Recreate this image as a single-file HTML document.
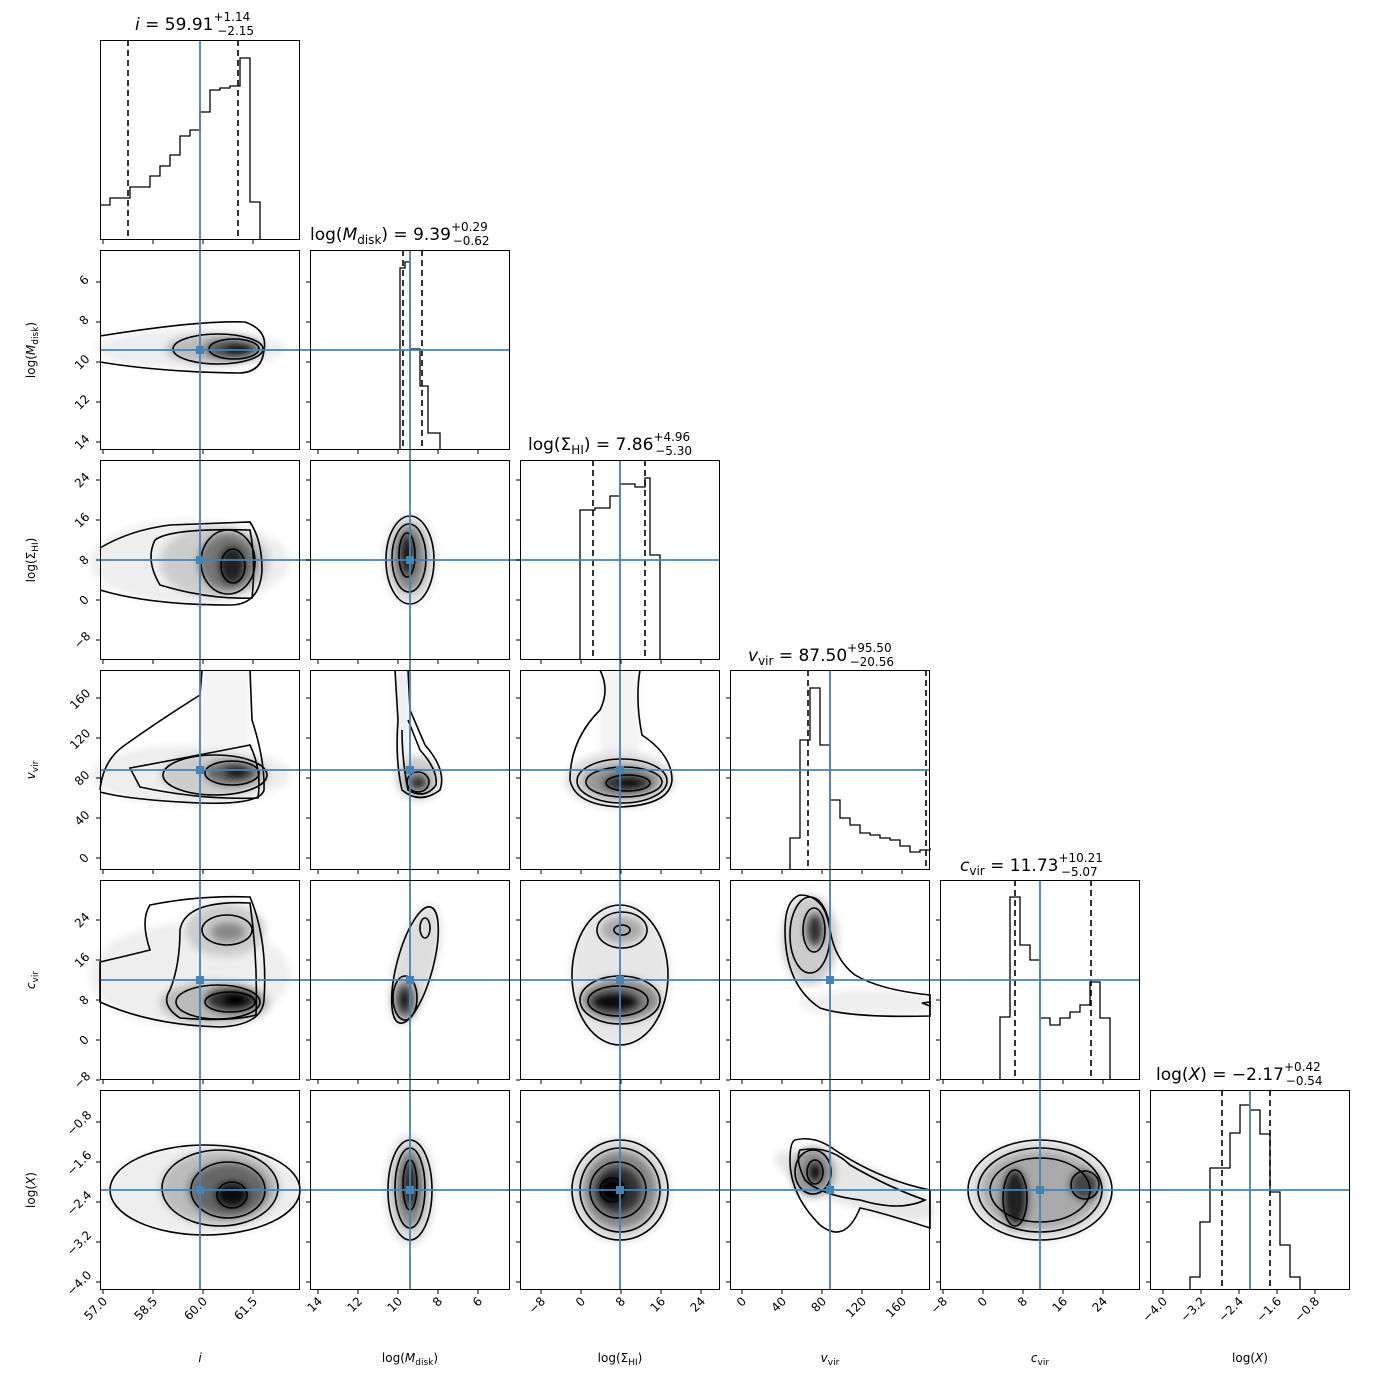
<!DOCTYPE html>
<html><head><meta charset="utf-8"><style>
html,body{margin:0;padding:0;background:#fff}
svg{display:block;font-family:"DejaVu Sans","Liberation Sans",sans-serif}
</style></head><body>
<svg width="1390" height="1390" viewBox="0 0 1390 1390" xmlns="http://www.w3.org/2000/svg">
<defs><filter id="b" x="-20%" y="-20%" width="140%" height="140%"><feGaussianBlur stdDeviation="4"/></filter></defs>
<rect width="1390" height="1390" fill="#fff"/>

<g filter="url(#b)">
<ellipse cx="190" cy="349" rx="95" ry="20" fill="#eee"/><ellipse cx="215" cy="349" rx="50" ry="15" fill="#bbb"/><ellipse cx="232" cy="349" rx="28" ry="11" fill="#555"/><ellipse cx="238" cy="350" rx="15" ry="7" fill="#111"/>
<ellipse cx="190" cy="562" rx="100" ry="42" fill="#eee"/><ellipse cx="215" cy="562" rx="55" ry="36" fill="#ccc"/><ellipse cx="228" cy="562" rx="30" ry="30" fill="#777"/><ellipse cx="232" cy="565" rx="14" ry="20" fill="#222"/>
<ellipse cx="410" cy="560" rx="26" ry="45" fill="#ddd"/><ellipse cx="409" cy="558" rx="18" ry="34" fill="#888"/><ellipse cx="407" cy="555" rx="8" ry="22" fill="#111"/>
<ellipse cx="190" cy="775" rx="100" ry="30" fill="#eee"/><rect x="200" y="670" width="50" height="100" fill="#f3f3f3"/><ellipse cx="215" cy="775" rx="55" ry="22" fill="#ccc"/><ellipse cx="232" cy="773" rx="28" ry="13" fill="#666"/><ellipse cx="237" cy="772" rx="14" ry="7" fill="#111"/>
<rect x="395" y="670" width="15" height="90" fill="#eee"/><ellipse cx="418" cy="778" rx="22" ry="22" fill="#ccc"/><ellipse cx="418" cy="782" rx="12" ry="10" fill="#555"/><ellipse cx="418" cy="785" rx="7" ry="5" fill="#111"/>
<rect x="600" y="670" width="40" height="100" fill="#f3f3f3"/><ellipse cx="620" cy="780" rx="55" ry="28" fill="#ddd"/><ellipse cx="622" cy="781" rx="40" ry="18" fill="#999"/><ellipse cx="627" cy="783" rx="25" ry="10" fill="#333"/><ellipse cx="630" cy="783" rx="12" ry="5" fill="#000"/>
<ellipse cx="190" cy="975" rx="100" ry="52" fill="#eee"/><ellipse cx="225" cy="930" rx="40" ry="27" fill="#ccc"/><ellipse cx="215" cy="1003" rx="55" ry="22" fill="#bbb"/><ellipse cx="228" cy="932" rx="18" ry="10" fill="#888"/><ellipse cx="232" cy="1000" rx="28" ry="14" fill="#333"/><ellipse cx="235" cy="1000" rx="14" ry="8" fill="#000"/>
<ellipse cx="415" cy="965" rx="20" ry="62" transform="rotate(15 415 965)" fill="#ddd"/><ellipse cx="405" cy="1000" rx="12" ry="20" fill="#666"/><ellipse cx="404" cy="1000" rx="6" ry="12" fill="#000"/>
<ellipse cx="620" cy="975" rx="50" ry="72" fill="#e6e6e6"/><ellipse cx="622" cy="930" rx="22" ry="14" fill="#aaa"/><ellipse cx="620" cy="1000" rx="40" ry="22" fill="#888"/><ellipse cx="615" cy="1002" rx="26" ry="12" fill="#111"/>
<ellipse cx="810" cy="940" rx="28" ry="45" fill="#ccc"/><ellipse cx="870" cy="1003" rx="70" ry="13" fill="#eee"/><ellipse cx="815" cy="930" rx="10" ry="18" fill="#333"/>
<ellipse cx="205" cy="1190" rx="100" ry="45" fill="#eee"/><ellipse cx="220" cy="1188" rx="60" ry="38" fill="#bbb"/><ellipse cx="228" cy="1190" rx="40" ry="28" fill="#666"/><ellipse cx="232" cy="1195" rx="18" ry="14" fill="#111"/>
<ellipse cx="410" cy="1190" rx="25" ry="55" fill="#ddd"/><ellipse cx="410" cy="1188" rx="16" ry="40" fill="#888"/><ellipse cx="410" cy="1185" rx="8" ry="25" fill="#222"/>
<ellipse cx="620" cy="1190" rx="50" ry="52" fill="#ddd"/><ellipse cx="620" cy="1190" rx="38" ry="40" fill="#888"/><ellipse cx="618" cy="1190" rx="25" ry="25" fill="#333"/><ellipse cx="612" cy="1190" rx="14" ry="14" fill="#000"/>
<ellipse cx="855" cy="1185" rx="85" ry="22" transform="rotate(20 855 1185)" fill="#e6e6e6"/><ellipse cx="813" cy="1172" rx="22" ry="25" fill="#999"/><ellipse cx="815" cy="1172" rx="9" ry="12" fill="#111"/>
<ellipse cx="1040" cy="1190" rx="72" ry="50" fill="#ddd"/><ellipse cx="1040" cy="1190" rx="60" ry="40" fill="#aaa"/><ellipse cx="1015" cy="1198" rx="14" ry="30" fill="#222"/><ellipse cx="1085" cy="1185" rx="16" ry="16" fill="#444"/>
</g>

<g fill="none" stroke="#000" stroke-width="1.6">
<path d="M100,336 Q200,320 245,322 Q268,330 264,350 Q262,372 240,373 Q160,372 100,362"/>
<ellipse cx="218" cy="349" rx="45" ry="15"/><ellipse cx="234" cy="349" rx="25" ry="10"/>
<path d="M100,548 Q130,530 170,525 L250,522 Q262,540 262,570 Q260,605 230,605 Q150,605 100,590"/>
<path d="M155,540 Q170,528 250,530 Q256,560 252,598 Q210,600 160,585 Q145,560 155,540Z"/>
<ellipse cx="228" cy="562" rx="27" ry="32"/><ellipse cx="233" cy="566" rx="12" ry="17"/>
<ellipse cx="410" cy="560" rx="24" ry="44"/><ellipse cx="409" cy="558" rx="17" ry="34"/><ellipse cx="407" cy="555" rx="8" ry="22"/>
<path d="M100,790 Q103,760 125,745 Q160,720 200,695 L202,670 M250,670 L252,720 Q265,760 264,790 Q260,805 200,803 Q130,800 100,792"/>
<path d="M130,768 Q200,755 250,745 Q262,770 258,798 Q200,800 140,787Z"/>
<ellipse cx="215" cy="775" rx="52" ry="20"/><ellipse cx="232" cy="773" rx="27" ry="12"/>
<path d="M395,670 L398,720 Q395,760 402,790 Q420,805 440,790 Q447,770 425,745 L410,710 L408,670"/>
<path d="M402,730 Q402,760 408,790 Q425,800 436,785 Q438,770 420,750 L408,720"/>
<ellipse cx="418" cy="782" rx="11" ry="10"/>
<path d="M600,670 Q610,690 600,710 Q570,740 570,780 Q575,805 620,807 Q670,805 672,780 Q672,755 642,735 Q635,700 640,670"/>
<ellipse cx="622" cy="781" rx="45" ry="22"/><ellipse cx="624" cy="782" rx="38" ry="15"/><ellipse cx="628" cy="783" rx="22" ry="8"/>
<path d="M100,962 Q130,955 150,950 Q140,920 150,905 Q200,895 250,897 Q268,940 264,1000 Q262,1025 220,1027 Q150,1025 100,1002Z"/>
<path d="M180,930 Q185,900 250,903 Q258,960 256,1015 Q230,1022 180,1018 Q160,1005 170,990 Q180,965 180,930Z"/>
<ellipse cx="227" cy="930" rx="25" ry="15"/><ellipse cx="218" cy="1002" rx="42" ry="17"/><ellipse cx="230" cy="1002" rx="25" ry="10"/>
<ellipse cx="415" cy="965" rx="18" ry="60" transform="rotate(15 415 965)"/><ellipse cx="405" cy="998" rx="12" ry="22"/><ellipse cx="425" cy="928" rx="5" ry="10"/>
<ellipse cx="620" cy="975" rx="48" ry="70"/><ellipse cx="622" cy="930" rx="25" ry="18"/><ellipse cx="622" cy="930" rx="8" ry="5"/>
<ellipse cx="620" cy="1000" rx="40" ry="24"/><ellipse cx="618" cy="1001" rx="30" ry="15"/>
<path d="M800,895 Q825,895 830,930 Q835,960 855,975 Q880,990 930,995 L930,1016 Q850,1018 820,1008 Q785,985 785,930 Q785,900 800,895Z"/>
<ellipse cx="810" cy="935" rx="20" ry="38"/><ellipse cx="814" cy="930" rx="11" ry="22"/>
<path d="M922,1003 L930,1002 L930,1006 Z"/>
<ellipse cx="205" cy="1190" rx="95" ry="45"/><ellipse cx="220" cy="1188" rx="58" ry="38"/><ellipse cx="228" cy="1190" rx="37" ry="28"/><ellipse cx="232" cy="1195" rx="15" ry="13"/>
<ellipse cx="410" cy="1190" rx="22" ry="50"/><ellipse cx="410" cy="1188" rx="15" ry="40"/><ellipse cx="410" cy="1185" rx="7" ry="25"/>
<ellipse cx="620" cy="1190" rx="48" ry="50"/><ellipse cx="620" cy="1190" rx="40" ry="42"/><ellipse cx="618" cy="1190" rx="28" ry="28"/><ellipse cx="612" cy="1190" rx="12" ry="12"/>
<path d="M795,1140 Q815,1135 835,1150 Q880,1180 930,1190 L930,1228 Q880,1212 860,1208 Q845,1245 820,1225 Q790,1195 790,1160 Q790,1142 795,1140Z"/>
<path d="M800,1150 Q830,1145 850,1165 Q890,1188 925,1200 Q900,1212 860,1200 Q820,1195 805,1180 Q795,1160 800,1150Z"/>
<ellipse cx="813" cy="1172" rx="18" ry="22"/><ellipse cx="815" cy="1172" rx="8" ry="12"/>
<ellipse cx="1040" cy="1190" rx="72" ry="50"/><ellipse cx="1040" cy="1190" rx="62" ry="42"/><ellipse cx="1040" cy="1190" rx="50" ry="32"/><ellipse cx="1015" cy="1198" rx="12" ry="28"/><ellipse cx="1085" cy="1185" rx="14" ry="14"/>
</g>

<g fill="none" stroke="#000" stroke-width="1.3">
<path d="M100,205 H110 V198 H130 V187 H150 V176 H160 V166 H170 V155 H180 V136 H190 V130 H200 V112 H210 V90 H220 V88 H230 V86 H240 V58 H250 V202 H260 V240"/>
<path d="M400,450 V268 H405 V262 H410 V349 H420 V386 H428 V433 H440 V450"/>
<path d="M580,660 V510 H595 V508 H610 V496 H620 V484 H635 V487 H645 V478 H650 V555 H660 V660"/>
<path d="M790,870 V838 H800 V740 H810 V688 H820 V745 H830 V800 H840 V818 H850 V825 H860 V833 H870 V835 H880 V838 H890 V840 H900 V846 H910 V852 H920 V850 H930 V848"/>
<path d="M1000,1080 V1017 H1010 V897 H1020 V945 H1030 V960 H1040 V1018 H1050 V1025 H1060 V1018 H1070 V1012 H1080 V1005 H1090 V982 H1100 V1018 H1110 V1080"/>
<path d="M1190,1290 V1277 H1200 V1222 H1210 V1168 H1230 V1133 H1240 V1105 H1250 V1110 H1260 V1134 H1270 V1192 H1280 V1245 H1290 V1277 H1300 V1290"/>
</g>
<g stroke="#000" stroke-width="1.6" stroke-dasharray="6,4">
<path d="M128,40V240M238,40V240M403,250V450M422,250V450M593,460V660M645,460V660M808,670V870M926,670V870M1015,880V1080M1091,880V1080M1222,1090V1290M1270,1090V1290"/>
</g>

<g stroke="#4682b4" stroke-width="1.8">
<path d="M200,40V1290M410,250V1290M620,460V1290M830,670V1290M1040,880V1290M1250,1090V1290"/>
<path d="M100,350H510M100,560H720M100,770H930M100,980H1140M100,1190H1350"/>
</g>
<g fill="#4682b4">
<rect x="196" y="346" width="8" height="8"/><rect x="196" y="556" width="8" height="8"/><rect x="406" y="556" width="8" height="8"/>
<rect x="196" y="766" width="8" height="8"/><rect x="406" y="766" width="8" height="8"/><rect x="616" y="766" width="8" height="8"/>
<rect x="196" y="976" width="8" height="8"/><rect x="406" y="976" width="8" height="8"/><rect x="616" y="976" width="8" height="8"/><rect x="826" y="976" width="8" height="8"/>
<rect x="196" y="1186" width="8" height="8"/><rect x="406" y="1186" width="8" height="8"/><rect x="616" y="1186" width="8" height="8"/><rect x="826" y="1186" width="8" height="8"/><rect x="1036" y="1186" width="8" height="8"/>
</g>

<g fill="none" stroke="#000" stroke-width="1">
<rect x="100.5" y="40.5" width="199" height="199"/>
<rect x="100.5" y="250.5" width="199" height="199"/><rect x="310.5" y="250.5" width="199" height="199"/>
<rect x="100.5" y="460.5" width="199" height="199"/><rect x="310.5" y="460.5" width="199" height="199"/><rect x="520.5" y="460.5" width="199" height="199"/>
<rect x="100.5" y="670.5" width="199" height="199"/><rect x="310.5" y="670.5" width="199" height="199"/><rect x="520.5" y="670.5" width="199" height="199"/><rect x="730.5" y="670.5" width="199" height="199"/>
<rect x="100.5" y="880.5" width="199" height="199"/><rect x="310.5" y="880.5" width="199" height="199"/><rect x="520.5" y="880.5" width="199" height="199"/><rect x="730.5" y="880.5" width="199" height="199"/><rect x="940.5" y="880.5" width="199" height="199"/>
<rect x="100.5" y="1090.5" width="199" height="199"/><rect x="310.5" y="1090.5" width="199" height="199"/><rect x="520.5" y="1090.5" width="199" height="199"/><rect x="730.5" y="1090.5" width="199" height="199"/><rect x="940.5" y="1090.5" width="199" height="199"/><rect x="1150.5" y="1090.5" width="199" height="199"/>
</g>

<g stroke="#000" stroke-width="1">
<path d="M103,240v4M153,240v4M203,240v4M253,240v4 M103,450v4M153,450v4M203,450v4M253,450v4 M103,660v4M153,660v4M203,660v4M253,660v4 M103,870v4M153,870v4M203,870v4M253,870v4 M103,1080v4M153,1080v4M203,1080v4M253,1080v4 M103,1290v4M153,1290v4M203,1290v4M253,1290v4"/>
<path d="M318,450v4M358,450v4M398,450v4M438,450v4M478,450v4 M318,660v4M358,660v4M398,660v4M438,660v4M478,660v4 M318,870v4M358,870v4M398,870v4M438,870v4M478,870v4 M318,1080v4M358,1080v4M398,1080v4M438,1080v4M478,1080v4 M318,1290v4M358,1290v4M398,1290v4M438,1290v4M478,1290v4"/>
<path d="M541,660v4M581,660v4M621,660v4M661,660v4M701,660v4 M541,870v4M581,870v4M621,870v4M661,870v4M701,870v4 M541,1080v4M581,1080v4M621,1080v4M661,1080v4M701,1080v4 M541,1290v4M581,1290v4M621,1290v4M661,1290v4M701,1290v4"/>
<path d="M742,870v4M782,870v4M822,870v4M862,870v4M902,870v4 M742,1080v4M782,1080v4M822,1080v4M862,1080v4M902,1080v4 M742,1290v4M782,1290v4M822,1290v4M862,1290v4M902,1290v4"/>
<path d="M943,1080v4M983,1080v4M1023,1080v4M1063,1080v4M1103,1080v4 M943,1290v4M983,1290v4M1023,1290v4M1063,1290v4M1103,1290v4"/>
<path d="M1163,1290v4M1201,1290v4M1239,1290v4M1277,1290v4M1315,1290v4"/>
<path d="M100,282h-4M100,322h-4M100,362h-4M100,402h-4M100,442h-4 M310,282h-4M310,322h-4M310,362h-4M310,402h-4M310,442h-4"/>
<path d="M100,480h-4M100,520h-4M100,560h-4M100,600h-4M100,640h-4 M310,480h-4M310,520h-4M310,560h-4M310,600h-4M310,640h-4 M520,480h-4M520,520h-4M520,560h-4M520,600h-4M520,640h-4"/>
<path d="M100,698h-4M100,738h-4M100,778h-4M100,818h-4M100,858h-4 M310,698h-4M310,738h-4M310,778h-4M310,818h-4M310,858h-4 M520,698h-4M520,738h-4M520,778h-4M520,818h-4M520,858h-4 M730,698h-4M730,738h-4M730,778h-4M730,818h-4M730,858h-4"/>
<path d="M100,920h-4M100,960h-4M100,1000h-4M100,1040h-4M100,1080h-4 M310,920h-4M310,960h-4M310,1000h-4M310,1040h-4M310,1080h-4 M520,920h-4M520,960h-4M520,1000h-4M520,1040h-4M520,1080h-4 M730,920h-4M730,960h-4M730,1000h-4M730,1040h-4M730,1080h-4 M940,920h-4M940,960h-4M940,1000h-4M940,1040h-4M940,1080h-4"/>
<path d="M100,1122h-4M100,1162h-4M100,1202h-4M100,1242h-4M100,1282h-4 M310,1122h-4M310,1162h-4M310,1202h-4M310,1242h-4M310,1282h-4 M520,1122h-4M520,1162h-4M520,1202h-4M520,1242h-4M520,1282h-4 M730,1122h-4M730,1162h-4M730,1202h-4M730,1242h-4M730,1282h-4 M940,1122h-4M940,1162h-4M940,1202h-4M940,1242h-4M940,1282h-4 M1150,1122h-4M1150,1162h-4M1150,1202h-4M1150,1242h-4M1150,1282h-4"/>
</g>

<g font-size="12" fill="#000" text-anchor="end">
<text transform="translate(108,1302) rotate(-45)">57.0</text><text transform="translate(158,1302) rotate(-45)">58.5</text><text transform="translate(208,1302) rotate(-45)">60.0</text><text transform="translate(258,1302) rotate(-45)">61.5</text>
<text transform="translate(323,1302) rotate(-45)">14</text><text transform="translate(363,1302) rotate(-45)">12</text><text transform="translate(403,1302) rotate(-45)">10</text><text transform="translate(443,1302) rotate(-45)">8</text><text transform="translate(483,1302) rotate(-45)">6</text>
<text transform="translate(546,1302) rotate(-45)">−8</text><text transform="translate(586,1302) rotate(-45)">0</text><text transform="translate(626,1302) rotate(-45)">8</text><text transform="translate(666,1302) rotate(-45)">16</text><text transform="translate(706,1302) rotate(-45)">24</text>
<text transform="translate(747,1302) rotate(-45)">0</text><text transform="translate(787,1302) rotate(-45)">40</text><text transform="translate(827,1302) rotate(-45)">80</text><text transform="translate(867,1302) rotate(-45)">120</text><text transform="translate(907,1302) rotate(-45)">160</text>
<text transform="translate(948,1302) rotate(-45)">−8</text><text transform="translate(988,1302) rotate(-45)">0</text><text transform="translate(1028,1302) rotate(-45)">8</text><text transform="translate(1068,1302) rotate(-45)">16</text><text transform="translate(1108,1302) rotate(-45)">24</text>
<text transform="translate(1168,1302) rotate(-45)">−4.0</text><text transform="translate(1206,1302) rotate(-45)">−3.2</text><text transform="translate(1244,1302) rotate(-45)">−2.4</text><text transform="translate(1282,1302) rotate(-45)">−1.6</text><text transform="translate(1320,1302) rotate(-45)">−0.8</text>
</g>
<g font-size="12" fill="#000" text-anchor="middle">
<text transform="translate(87,283) rotate(-45)">6</text><text transform="translate(87,323) rotate(-45)">8</text><text transform="translate(85,365) rotate(-45)">10</text><text transform="translate(85,405) rotate(-45)">12</text><text transform="translate(85,445) rotate(-45)">14</text>
<text transform="translate(85,483) rotate(-45)">24</text><text transform="translate(85,523) rotate(-45)">16</text><text transform="translate(87,563) rotate(-45)">8</text><text transform="translate(87,603) rotate(-45)">0</text><text transform="translate(85,643) rotate(-45)">−8</text>
<text transform="translate(83,702) rotate(-45)">160</text><text transform="translate(83,742) rotate(-45)">120</text><text transform="translate(85,781) rotate(-45)">80</text><text transform="translate(85,821) rotate(-45)">40</text><text transform="translate(87,861) rotate(-45)">0</text>
<text transform="translate(85,923) rotate(-45)">24</text><text transform="translate(85,963) rotate(-45)">16</text><text transform="translate(87,1003) rotate(-45)">8</text><text transform="translate(87,1043) rotate(-45)">0</text><text transform="translate(85,1083) rotate(-45)">−8</text>
<text transform="translate(82,1126) rotate(-45)">−0.8</text><text transform="translate(82,1166) rotate(-45)">−1.6</text><text transform="translate(82,1206) rotate(-45)">−2.4</text><text transform="translate(82,1246) rotate(-45)">−3.2</text><text transform="translate(82,1286) rotate(-45)">−4.0</text>
</g>

<g font-size="12" fill="#000" text-anchor="middle">
<text x="200" y="1362" font-style="italic">i</text>
<text x="410" y="1362">log(<tspan font-style="italic">M</tspan><tspan font-size="9" dy="3">disk</tspan><tspan dy="-3">)</tspan></text>
<text x="620" y="1362">log(Σ<tspan font-size="9" dy="3">HI</tspan><tspan dy="-3">)</tspan></text>
<text x="830" y="1362"><tspan font-style="italic">v</tspan><tspan font-size="9" dy="3">vir</tspan></text>
<text x="1040" y="1362"><tspan font-style="italic">c</tspan><tspan font-size="9" dy="3">vir</tspan></text>
<text x="1250" y="1362">log(<tspan font-style="italic">X</tspan>)</text>
<text transform="translate(35,350) rotate(-90)">log(<tspan font-style="italic">M</tspan><tspan font-size="9" dy="3">disk</tspan><tspan dy="-3">)</tspan></text>
<text transform="translate(35,560) rotate(-90)">log(Σ<tspan font-size="9" dy="3">HI</tspan><tspan dy="-3">)</tspan></text>
<text transform="translate(35,770) rotate(-90)"><tspan font-style="italic">v</tspan><tspan font-size="9" dy="3">vir</tspan></text>
<text transform="translate(35,980) rotate(-90)"><tspan font-style="italic">c</tspan><tspan font-size="9" dy="3">vir</tspan></text>
<text transform="translate(35,1190) rotate(-90)">log(<tspan font-style="italic">X</tspan>)</text>
</g>

<g font-size="17" fill="#000">
<text x="135" y="30"><tspan font-style="italic">i</tspan> = 59.91<tspan font-size="12" dy="-9">+1.14</tspan><tspan font-size="12" dx="-33" dy="14">−2.15</tspan></text>
<text x="310" y="240">log(<tspan font-style="italic">M</tspan><tspan font-size="12" dy="4">disk</tspan><tspan dy="-4">) = 9.39</tspan><tspan font-size="12" dy="-9">+0.29</tspan><tspan font-size="12" dx="-35" dy="14">−0.62</tspan></text>
<text x="528" y="450">log(Σ<tspan font-size="12" dy="4">HI</tspan><tspan dy="-4">) = 7.86</tspan><tspan font-size="12" dy="-9">+4.96</tspan><tspan font-size="12" dx="-35" dy="14">−5.30</tspan></text>
<text x="748" y="661"><tspan font-style="italic">v</tspan><tspan font-size="12" dy="4">vir</tspan><tspan dy="-4"> = 87.50</tspan><tspan font-size="12" dy="-9">+95.50</tspan><tspan font-size="12" dx="-42" dy="14">−20.56</tspan></text>
<text x="960" y="871"><tspan font-style="italic">c</tspan><tspan font-size="12" dy="4">vir</tspan><tspan dy="-4"> = 11.73</tspan><tspan font-size="12" dy="-9">+10.21</tspan><tspan font-size="12" dx="-42" dy="14">−5.07</tspan></text>
<text x="1156" y="1080">log(<tspan font-style="italic">X</tspan>) = −2.17<tspan font-size="12" dy="-9">+0.42</tspan><tspan font-size="12" dx="-35" dy="14">−0.54</tspan></text>
</g>
</svg>
</body></html>
